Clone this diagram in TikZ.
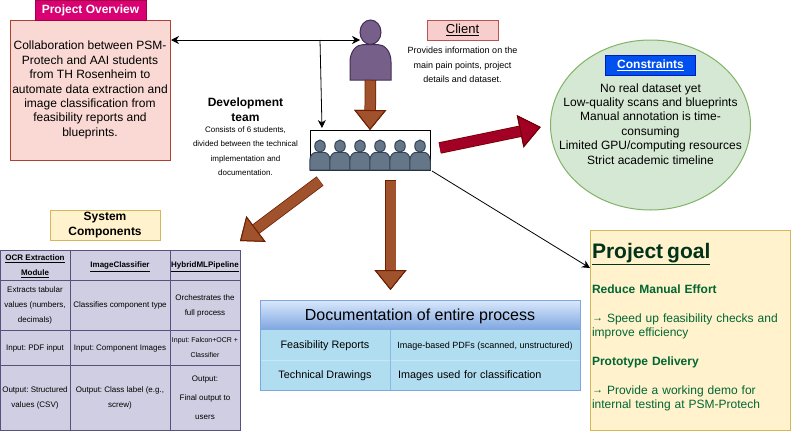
\documentclass[tikz,border=0pt]{standalone}
\usepackage{fontspec}
\setmainfont{Liberation Sans}
\usetikzlibrary{arrows.meta, positioning, calc, shapes.geometric}

\definecolor{overviewfill}{HTML}{FAD9D5}
\definecolor{overviewline}{HTML}{AE4132}
\definecolor{magentahead}{HTML}{D80073}
\definecolor{magentaline}{HTML}{A50040}
\definecolor{clientfill}{HTML}{F8CECC}
\definecolor{clientline}{HTML}{B85450}
\definecolor{purplefill}{HTML}{76608A}
\definecolor{purpleline}{HTML}{432D57}
\definecolor{slatefill}{HTML}{647687}
\definecolor{slateline}{HTML}{314354}
\definecolor{brownfill}{HTML}{A0522D}
\definecolor{brownline}{HTML}{6D1F00}
\definecolor{redfill}{HTML}{A20025}
\definecolor{redline}{HTML}{6F0000}
\definecolor{greenfill}{HTML}{D5E8D4}
\definecolor{greenline}{HTML}{82B366}
\definecolor{bluehead}{HTML}{0050EF}
\definecolor{blueline}{HTML}{001DBC}
\definecolor{yellowfill}{HTML}{FFF2CC}
\definecolor{yellowline}{HTML}{D6B656}
\definecolor{cellfill}{HTML}{D0CEE2}
\definecolor{cellline}{HTML}{56517E}
\definecolor{docfill}{HTML}{B1DDF0}
\definecolor{docline}{HTML}{7EA6E0}
\definecolor{doctop}{HTML}{DAE8FC}
\definecolor{goaldark}{HTML}{00331A}
\definecolor{goalgreen}{HTML}{006633}

\newcommand{\goalarrow}{{\fontsize{11}{12}\selectfont\raisebox{.4pt}{→}}}
\frenchspacing

\begin{document}
\begin{tikzpicture}[
        x=1pt, y=-1pt,
        every node/.style={inner sep=1pt, outer sep=0pt, align=center},
        bodytext/.style={font=\fontsize{12}{14.4}\selectfont},
        tinytext/.style={font=\fontsize{8}{14.5}\selectfont},
        titlebox/.style={draw, line width=1pt, font=\fontsize{12}{14.4}\selectfont\bfseries},
        cell/.style={draw=cellline, fill=cellfill, line width=1pt, text depth=-3pt, font=\fontsize{8}{15}\selectfont},
        cola/.style={cell, minimum width=70pt},
        colb/.style={cell, minimum width=100pt},
        colc/.style={cell, minimum width=70pt},
        docrow/.style={fill=docfill, minimum height=30pt, text depth=-3pt},
        thinarrow/.style={-{Stealth[length=8pt,width=8pt]}, line width=.8pt},
        fatbrown/.style={line width=10pt, draw=brownfill, shorten <=.5pt,
            -{Triangle[length=20pt,width=32pt,fill=brownfill,color=brownline,line width=1pt]},
            preaction={draw=brownline, line width=11.5pt, shorten <=0pt}},
        fatred/.style={line width=10pt, draw=redfill,
            -{Triangle[length=21pt,width=33pt,fill=redfill,color=redline,line width=1pt]},
            preaction={draw=redline, line width=11.5pt}},
        person/.pic={
            \draw[line width=1pt, pic actions] (-20.5,0) -- (-20.5,-18) .. controls (-20.5,-29) and (-14,-35.5) .. (-7,-35.5)
                -- (7,-35.5) .. controls (14,-35.5) and (20.5,-29) .. (20.5,-18) -- (20.5,0) -- cycle;
            \draw[line width=1pt, pic actions] (0,-47.8) ellipse [x radius=10.5, y radius=12.2];
        },
    ]
    \useasboundingbox (0,0) rectangle (791,434);

    % Overview
    \node[draw=overviewline, fill=overviewfill, line width=1pt, bodytext, minimum width=160pt, minimum height=140pt, anchor=north west] (overview) at (10,20)
        {Collaboration between PSM-\\Protech and AAI students\\from TH Rosenheim to\\automate data extraction and\\image classification from\\feasibility reports and\\blueprints.};
    \node[titlebox, draw=magentaline, fill=magentahead, text=white, minimum width=111pt, minimum height=20pt, anchor=south] (overviewhead) at (90.5,20) {Project Overview};

    % Client
    \node[minimum width=41pt, minimum height=60pt, anchor=north] (clientfig) at (370.5,20) {};
    \pic[fill=purplefill, draw=purpleline] at (clientfig.south) {person};
    \node[draw=clientline, fill=clientfill, line width=1pt, minimum width=71pt, minimum height=20pt, font=\fontsize{13}{15}\selectfont] (clienthead) at (462.5,30) {\underline{Client}};
    \node[font=\fontsize{9}{14.5}\selectfont, below=6pt of clienthead] (clienttext) {Provides information on the\\main pain points, project\\details and dataset.};

    % Development team
    \node[minimum width=120pt, minimum height=40pt, draw, line width=1pt, anchor=north west] (teamfig) at (310,130) {};
    \foreach \i in {0,...,5}
        \pic[fill=slatefill, draw=slateline, scale=.5] at ($(teamfig.south west)+(10+20*\i,0)$) {person};
    \node[font=\fontsize{12}{15}\selectfont\bfseries, minimum width=90pt] (teamhead) at (245.5,109.5) {Development\\team};
    \node[tinytext, below=3pt of teamhead] (teamtext) {Consists of 6 students,\\divided between the technical\\implementation and\\documentation.};

    % Constraints
    \node[draw=greenline, fill=greenfill, line width=1pt, ellipse, minimum width=200pt, minimum height=170pt] (constraints) at (650.5,125) {};
    \node[titlebox, draw=blueline, fill=bluehead, text=white, minimum width=90pt, minimum height=20pt] (constraintshead) at (650.5,65) {\underline{Constraints}};
    \node[bodytext, below=7.5pt of constraintshead] (constraintstext) {No real dataset yet\\Low-quality scans and blueprints\\Manual annotation is time-\\consuming\\Limited GPU/computing resources\\Strict academic timeline};

    % System components
    \node[titlebox, draw=yellowline, fill=yellowfill, minimum width=110pt, minimum height=30pt] (systemhead) at (105,225) {System\\Components};
    \node[cola, minimum height=30pt, anchor=north west, font=\fontsize{8}{15}\selectfont\bfseries] (ocrhead) at (0,250) {\underline{OCR Extraction}\\\underline{Module}};
    \node[colb, minimum height=30pt, right=0pt of ocrhead, font=\fontsize{8}{15}\selectfont\bfseries] (imghead) {\underline{ImageClassifier}};
    \node[colc, minimum height=30pt, right=0pt of imghead, font=\fontsize{8}{15}\selectfont\bfseries] (hybridhead) {\underline{HybridMLPipeline}};
    \node[cola, minimum height=50pt, below=0pt of ocrhead] (ocrwhat) {Extracts tabular\\values (numbers,\\decimals)};
    \node[colb, minimum height=50pt, below=0pt of imghead] (imgwhat) {Classifies component type};
    \node[colc, minimum height=50pt, below=0pt of hybridhead] (hybridwhat) {Orchestrates the\\full process};
    \node[cola, minimum height=35pt, below=0pt of ocrwhat] (ocrin) {Input: PDF input};
    \node[colb, minimum height=35pt, below=0pt of imgwhat] (imgin) {Input: Component Images};
    \node[colc, minimum height=35pt, below=0pt of hybridwhat, font=\fontsize{7}{15}\selectfont] (hybridin) {Input: Falcon+OCR +\\Classifier};
    \node[cola, minimum height=65pt, below=0pt of ocrin] (ocrout) {Output: Structured\\values (CSV)};
    \node[colb, minimum height=65pt, below=0pt of imgin] (imgout) {Output: Class label (e.g.,\\screw)};
    \node[colc, minimum height=65pt, below=0pt of hybridin, font=\fontsize{8}{19}\selectfont] (hybridout) {Output:\\Final output to\\users};

    % Documentation
    \node[draw=docline, line width=1pt, top color=doctop, bottom color=docline, minimum width=320pt, minimum height=30pt, text depth=0pt, anchor=north west, font=\fontsize{16}{18}\selectfont] (dochead) at (260,300) {Documentation of entire process};
    \node[docrow, minimum width=130pt, font=\fontsize{10.8}{12}\selectfont, anchor=north west] (feasname) at (dochead.south west) {Feasibility Reports};
    \node[docrow, minimum width=190pt, right=0pt of feasname, font=\fontsize{9}{12}\selectfont] (feastext) {Image-based PDFs (scanned, unstructured)};
    \node[docrow, minimum width=130pt, font=\fontsize{10.8}{12}\selectfont, below=0pt of feasname] (drawname) {Technical Drawings};
    \node[docrow, minimum width=190pt, right=0pt of drawname, font=\fontsize{10.8}{12}\selectfont, text width=174pt, align=left] (drawtext) {Images used for classification};
    \draw[docfill!70!white, line width=.8pt] (feasname.south west) -- (feastext.south east);
    \draw[docline!70!docfill, line width=.8pt] (feasname.north east) -- (drawname.south east);
    \draw[docline, line width=1pt] (feasname.north west) -- (drawname.south west) -- (drawtext.south east) -- (feastext.north east);

    % Goal
    \node[draw=yellowline, fill=yellowfill, line width=1pt, minimum width=200pt, minimum height=200pt, anchor=north west] (goal) at (590,230) {};
    \node[anchor=north west, align=left, text width=197pt, font=\fontsize{12}{14.4}\selectfont, text=goalgreen] (goaltext) at (591,242)
        {{\fontsize{21}{24}\selectfont\bfseries\textcolor{goaldark}{\underline{Project goal}}}\\[19pt]
        \textbf{Reduce Manual Effort}\\[14.4pt]
        \goalarrow{} Speed up feasibility checks and\\improve efficiency\\[14.4pt]
        \textbf{Prototype Delivery}\\[14.4pt]
        \goalarrow{} Provide a working demo for\\internal testing at PSM-Protech};

    % Connectors
    \coordinate (overviewport) at ($(overview.north east)+(1,20)$);
    \coordinate (clientport) at ($(clientfig.north)+(-10.5,20)$);
    \coordinate (branch) at (320,40);
    \coordinate (teamport) at ($(teamfig.north west)+(12,-2)$);
    \coordinate (teamcorner) at ($(teamfig.south east)+(2,1)$);
    \coordinate (goalport) at ($(goal.north west)+(0,38)$);
    \coordinate (sysport) at (240,241);
    \coordinate (sysstart) at (320,181);
    \coordinate (docstart) at (390.5,180);
    \draw[{Stealth[length=8pt,width=8pt]}-{Stealth[length=8pt,width=8pt]}, line width=.8pt] (overviewport) -- (clientport);
    \draw[thinarrow] (branch) -- (teamport);
    \draw[thinarrow] (teamcorner) -- (goalport);
    \draw[fatbrown] (clientfig.south) -- (teamfig.north);
    \draw[fatbrown, shorten >=10pt] (docstart) -- (dochead.north -| docstart);
    \draw[fatbrown] (sysstart) -- (sysport);
    \draw[fatred, shorten <=10pt, shorten >=10pt] (teamfig.east) -- (constraints.west);

\end{tikzpicture}
\end{document}
